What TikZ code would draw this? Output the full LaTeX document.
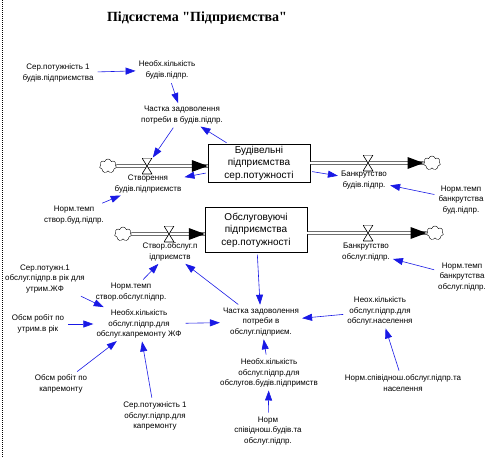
\documentclass[tikz,border=0pt]{standalone}
\usepackage{fontspec}
\setmainfont{Liberation Sans}
\newfontfamily\titlefont{Liberation Serif}
\usetikzlibrary{arrows.meta}
\usetikzlibrary{shapes.symbols}
\usetikzlibrary{decorations.markings}
\definecolor{lblue}{rgb}{0.1, 0.1, 0.9}

\begin{document}
\begin{tikzpicture}[x=1pt, y=-1pt,
    lbl/.style={align=center, inner sep=2pt, font=\fontsize{8}{10.5}\selectfont},
    lvl/.style={draw, align=center, inner sep=1pt, minimum width=102pt, font=\fontsize{10}{12.5}\selectfont},
    cld/.style={cloud, cloud puffs=7, draw, fill=white, inner sep=0pt, minimum width=17pt, minimum height=14pt},
    vlv/.style={inner sep=0pt, minimum width=10pt, minimum height=16pt,
      path picture={\draw[fill=white, line width=0.6pt] (path picture bounding box.north west) -- (path picture bounding box.north east) -- (path picture bounding box.south west) -- (path picture bounding box.south east) -- cycle;}},
    link/.style={lblue, line width=0.6pt, shorten <=2pt, shorten >=1pt, -{Triangle[length=10pt, width=7pt]}},
    pipe/.style={double, double distance=2.2pt, line width=0.6pt, postaction={decorate},
      decoration={markings, mark=at position 1 with {\fill (0,0) -- (-16pt,6pt) -- (-16pt,-6pt) -- cycle;}}}]
    \useasboundingbox (0, 0) rectangle (497, 458);
    \draw [line width=0.8pt, dash pattern=on 1pt off 1pt] (2, 0) -- (2, 458);

    \node [font=\titlefont\bfseries\fontsize{14}{16}\selectfont] (title) at (197, 18) {Підсистема "Підприємства"};

    \node [lbl] (sp1) at (58, 73) {Сер.потужність 1\\будів.підприємства};
    \node [lbl] (nb) at (167, 70) {Необх.кількість\\будів.підпр.};
    \node [lbl] (cb) at (182, 115) {Частка задоволення\\потреби в будів.підпр.};

    \node [lvl, minimum height=38pt] (st1) at (259, 163) {Будівельні\\підприємства\\сер.потужності};
    \node [lvl, minimum height=45pt] (st2) at (256, 230) {Обслуговуючі\\підприємства\\сер.потужності};

    \node [cld] (cl1a) at (108, 166) {};
    \node [cld] (cl1b) at (432, 163) {};
    \node [cld] (cl2a) at (123, 234) {};
    \node [cld] (cl2b) at (435, 233) {};

    \draw [pipe] (cl1a) -- (st1.west |- cl1a);
    \draw [pipe] (st1.east |- cl1b) -- (cl1b);
    \draw [pipe] (cl2a) -- (st2.west |- cl2a);
    \draw [pipe] (st2.east |- cl2b) -- (cl2b);

    \node [vlv] (v1) at (147, 166) {};
    \node [vlv] (v2) at (368, 163) {};
    \node [vlv] (v3) at (169, 234) {};
    \node [vlv] (v4) at (368, 233) {};

    \node [lbl] (cre1) at (148, 184) {Створення\\будів.підприємств};
    \node [lbl] (bnk1) at (364, 180) {Банкрутство\\будів.підпр.};
    \node [lbl] (cre2) at (170, 252) {Створ.обслуг.п\\ідприємств};
    \node [lbl] (bnk2) at (366, 252) {Банкрутство\\обслуг.підпр.};

    \node [lbl] (nt1) at (74, 215) {Норм.темп\\створ.буд.підпр.};
    \node [lbl] (nb1) at (461, 200) {Норм.темп\\банкрутства\\буд.підпр.};
    \node [lbl] (nb2) at (462, 277) {Норм.темп\\банкрутства\\обслуг.підпр.};
    \node [lbl] (nt2) at (131, 292) {Норм.темп\\створ.обслуг.підпр.};

    \node [lbl] (cs) at (261, 322) {Частка задоволення\\потреби в\\обслуг.підприєм.};
    \node [lbl] (sp2) at (45, 279) {Сер.потужн.1\\обслуг.підпр.в рік для\\утрим.ЖФ};
    \node [lbl] (nk) at (139, 324) {Необх.кількість\\обслуг.підпр.для\\обслуг.капремонту ЖФ};
    \node [lbl] (ob1) at (38, 324) {Обсм робіт по\\утрим.в рік};
    \node [lbl] (ob2) at (61, 384) {Обсм робіт по\\капремонту};
    \node [lbl] (sp3) at (155, 416) {Сер.потужність 1\\обслуг.підпр.для\\капремонту};
    \node [lbl] (nbd) at (269, 373) {Необх.кількість\\обслуг.підпр.для\\обслугов.будів.підпримств};
    \node [lbl] (ns1) at (268, 431) {Норм\\співіднош.будів.та\\обслуг.підпр.};
    \node [lbl] (nn) at (380, 311) {Неох.кількість\\обслуг.підпр.для\\обслуг.населення};
    \node [lbl] (ns2) at (403, 383) {Норм.співіднош.обслуг.підпр.та\\населення};

    \draw [link] (sp1) -- (nb);
    \draw [link] (nb) -- (cb);
    \draw [link] (st1) -- (cb);
    \draw [link] (cb) -- (v1);
    \draw [link] (st1) -- (cre1);
    \draw [link] (nt1) -- (cre1);
    \draw [link] (st1) -- (bnk1);
    \draw [link] (nb1) -- (bnk1);

    \draw [link] (nb2) -- (bnk2);
    \draw [link] (st2) -- (cs);
    \draw [link] (cs) -- (cre2);
    \draw [link] (nt2) -- (cre2);
    \draw [link] (sp2) -- (nk);
    \draw [link] (ob1) -- (nk);
    \draw [link] (ob2) -- (nk);
    \draw [link] (sp3) -- (nk);
    \draw [link] (nk) -- (cs);
    \draw [link] (nbd) -- (cs);
    \draw [link] (ns1) -- (nbd);
    \draw [link] (nn) -- (cs);
    \draw [link] (ns2) -- (nn);
  \end{tikzpicture}
\end{document}
